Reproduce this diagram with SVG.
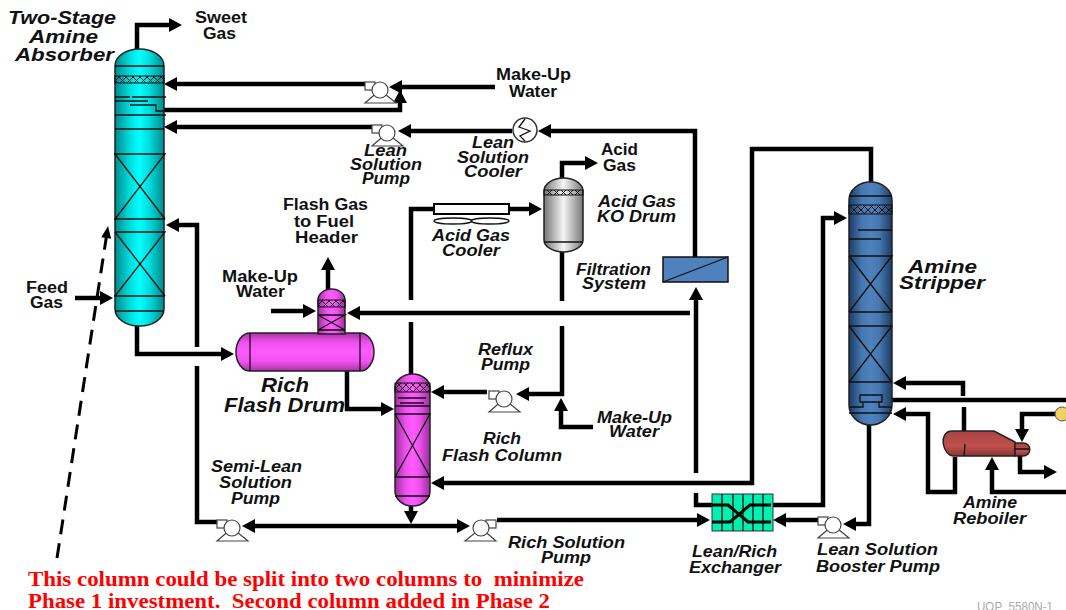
<svg xmlns="http://www.w3.org/2000/svg" width="1066" height="610" viewBox="0 0 1066 610">
<style>
text{font-family:"Liberation Sans",Arial,sans-serif;font-weight:700;fill:#111;font-size:16px}
.i{font-style:italic}
.b{font-size:20px}
.r{font-family:"Liberation Serif","Times New Roman",serif;fill:#f00;font-size:20px}
.g{fill:#aaa;font-weight:400;font-size:12px}
.p{fill:none;stroke:#000;stroke-width:4.500;stroke-linejoin:miter}
.a{marker-end:url(#ah)}
.v{stroke:#222;stroke-width:1.5}
.l{fill:none;stroke:#111;stroke-width:1.3}
.d{fill:url(#mesh);stroke:#111;stroke-width:1}
.pm{fill:#fff;stroke:#444;stroke-width:1.2}
</style>
<defs>
<marker id="ah" markerUnits="userSpaceOnUse" markerWidth="16" markerHeight="16" refX="3" refY="7" orient="auto" overflow="visible"><path d="M0,0L13,7L0,14z" fill="#000"/></marker>
<marker id="ad" markerUnits="userSpaceOnUse" markerWidth="14" markerHeight="14" refX="2" refY="6" orient="auto" overflow="visible"><path d="M0,1L12,6L0,11z" fill="#000"/></marker>
<linearGradient id="gc"><stop offset="0" stop-color="#008a8a"/><stop offset=".3" stop-color="#00dcdc"/><stop offset=".5" stop-color="#0ff"/><stop offset=".7" stop-color="#00dcdc"/><stop offset="1" stop-color="#008a8a"/></linearGradient>
<linearGradient id="gm"><stop offset="0" stop-color="#9a2f9a"/><stop offset=".3" stop-color="#ee50ee"/><stop offset=".5" stop-color="#ff5cff"/><stop offset=".7" stop-color="#ee50ee"/><stop offset="1" stop-color="#9a2f9a"/></linearGradient>
<linearGradient id="gy"><stop offset="0" stop-color="#777"/><stop offset=".5" stop-color="#f5f5f5"/><stop offset="1" stop-color="#777"/></linearGradient>
<linearGradient id="gb"><stop offset="0" stop-color="#1d3b63"/><stop offset=".3" stop-color="#4678b2"/><stop offset=".5" stop-color="#4f81bd"/><stop offset=".7" stop-color="#4678b2"/><stop offset="1" stop-color="#1d3b63"/></linearGradient>
<linearGradient id="gv" x1="0" y1="0" x2="0" y2="1"><stop offset="0" stop-color="#a835a8"/><stop offset=".25" stop-color="#f050f0"/><stop offset=".5" stop-color="#ff5cff"/><stop offset=".75" stop-color="#f050f0"/><stop offset="1" stop-color="#a835a8"/></linearGradient>
<linearGradient id="gr" x1="0" y1="0" x2="0" y2="1"><stop offset="0" stop-color="#a84442"/><stop offset=".6" stop-color="#c0504d"/><stop offset="1" stop-color="#8a3533"/></linearGradient>
<pattern id="mesh" width="7" height="7" patternUnits="userSpaceOnUse"><path d="M0,0L7,7M7,0L0,7" stroke="#111" stroke-width="1"/></pattern>
<g id="pump"><path class="pm" d="M0,0L-15,13H16z"/><rect class="pm" x="-15" y="-8" width="10" height="8"/><circle class="pm" r="8"/></g>
</defs>

<g id="connectors">
<path class="p a" d="M137 49V25H172"/>
<path class="p a" d="M365 84H174"/>
<path class="p a" d="M495 87H399"/>
<path class="p a" d="M164 110H400V100"/>
<path class="p a" d="M372 127H174"/>
<path class="p a" d="M512 131H408"/>
<path class="p a" d="M695 257V131H548"/>
<path class="p a" d="M696 473V297"/>
<path class="p" d="M696 493V505H713"/>
<path class="p a" d="M690 313H357"/>
<path class="p" d="M411 300V209H434"/>
<path class="p a" d="M509 209H532"/>
<path class="p" d="M411 322V374"/>
<path class="p a" d="M562 178V163H588"/>
<path class="p" d="M562 252V301"/>
<path class="p a" d="M562 326V394H526"/>
<path class="p a" d="M487 392H441"/>
<path class="p a" d="M593 427H561V408"/>
<path class="p a" d="M137 325V354H224"/>
<path class="p a" d="M197 347V225H176"/>
<path class="p" d="M197 366V522H218"/>
<path class="p a" d="M411 506V514"/>
<path class="p a" d="M411 526H252"/>
<path class="p a" d="M411 526H460"/>
<path class="p a" d="M497 520H700"/>
<path class="p a" d="M328 289V267"/>
<path class="p a" d="M271 311H306"/>
<path class="p a" d="M347 371V409H384"/>
<path class="p a" d="M871 182V149H752V483H441"/>
<path class="p a" d="M773 505H823V218H837"/>
<path class="p a" d="M869 425V524H853"/>
<path class="p a" d="M818 520H783"/>
<path class="p a" d="M963 396V383H903"/>
<path class="p" d="M892 400H1066"/>
<path class="p" d="M964 407V431"/>
<path class="p a" d="M955 457V492H928V414H903"/>
<path class="p a" d="M1056 414H1022V432"/>
<path class="p a" d="M1020 456V472H1047"/>
<path class="p a" d="M1066 492H992V467"/>
<path class="p a" d="M75 298H103"/>
<path d="M57 558L106.500 236" fill="none" stroke="#000" stroke-width="3" stroke-dasharray="15 9" marker-end="url(#ad)"/>
</g>

<g id="absorber">
<path class="v" fill="url(#gc)" d="M115 66A24.500 17 0 0 1 164 66V309A24.500 17 0 0 1 115 309Z"/>
<rect class="d" x="115" y="76" width="49" height="7"/>
<path class="l" d="M115 66H164M115 97H130M132 97H166M115 101H148M130 105H156V111H164M115 115H166M115 129H164M114 154H165L115 219M165 219L115 154M114 219H165M115 232H165L115 296M165 296L115 232M114 296H165M115 311H164"/>
</g>
<g id="water-pump"><use href="#pump" x="380" y="90"/></g>
<g id="lean-pump"><use href="#pump" x="387" y="133"/></g>
<g id="lean-cooler"><circle cx="525" cy="130" r="12" fill="#fff" stroke="#333" stroke-width="1.500"/><path class="l" d="M525 119L519 127L530 131L520 136L525 141"/></g>
<g id="acid-cooler"><rect x="434" y="204" width="75" height="10" fill="#fff" stroke="#000" stroke-width="2"/><ellipse class="l" cx="453" cy="221" rx="19" ry="3"/><ellipse class="l" cx="490" cy="221" rx="19" ry="3"/></g>
<g id="ko-drum">
<path class="v" fill="url(#gy)" d="M544 191A19.500 13 0 0 1 583 191V240A19.500 12 0 0 1 544 240Z"/>
<rect class="d" x="544" y="190" width="39" height="5"/>
<path class="l" d="M544 242H583"/>
</g>
<g id="filter"><rect x="663" y="257" width="65" height="25" fill="#4f81bd" stroke="#111" stroke-width="1.500"/><path class="l" d="M663 282L728 257"/></g>
<g id="flash-drum">
<path class="v" fill="url(#gv)" d="M250 333H360A14 19 0 0 1 360 371H250A14 19 0 0 1 250 333Z"/>
<path class="l" d="M250 333V371M360 333V371"/>
<path class="v" fill="url(#gm)" d="M318 300A13.500 11 0 0 1 345 300V334H318Z"/>
<rect class="d" x="318" y="300" width="27" height="7"/>
<path class="l" d="M318 315H345L318 330M345 330L318 315M318 330H345"/>
</g>
<g id="flash-column">
<path class="v" fill="url(#gm)" d="M395 388A17.500 14 0 0 1 430 388V491A17.500 15 0 0 1 395 491Z"/>
<rect class="d" x="395" y="383" width="35" height="9"/>
<path class="l" d="M398 398H426M400 403H424M395 406H430M395 414H430L395 477M430 477L395 414M395 477H430M395 496H430"/>
</g>
<g id="semi-pump"><use href="#pump" x="232" y="528"/></g>
<g id="reflux-pump"><use href="#pump" x="504" y="399"/></g>
<g id="rich-pump"><use href="#pump" transform="translate(481 528) scale(-1 1)"/></g>
<g id="booster-pump"><use href="#pump" x="833" y="525"/></g>
<g id="exchanger">
<rect x="712" y="494" width="61" height="37" fill="#00f0b0" stroke="#333" stroke-width="1"/>
<path class="l" d="M722 494V531M733 494V531M743 494V531M753 494V531M763 494V531"/>
<path fill="none" stroke="#000" stroke-width="3" d="M712 505H728L748 522H771M712 522H730L750 505H771"/>
</g>
<g id="stripper">
<path class="v" fill="url(#gb)" d="M849 200A21.500 18 0 0 1 892 200V405A21.500 20 0 0 1 849 405Z"/>
<rect class="d" x="849" y="205" width="43" height="9"/>
<path class="l" d="M849 196H892M858 230H892M849 239H881M849 256H892L849 312M892 312L849 256M849 312H892M849 326H892L849 382M892 382L849 326M849 382H892M860 395H882V402H860ZM863 402V407H849M879 402V407H892M849 413H892"/>
</g>
<g id="reboiler">
<path class="v" fill="url(#gr)" d="M952 431H994L1015 442V456H954C942 456 938 431 952 431Z"/>
<path class="v" fill="url(#gr)" d="M1015 443H1023C1032 443 1032 456 1023 456H1015Z"/>
<path class="l" d="M965 444L964 456M1015 449H1029"/>
<circle cx="1062" cy="414" r="7" fill="#f0d060" stroke="#555"/>
</g>

<g id="labels">
<text class="i" style="font-size:19px" x="8" y="24" textLength="108" lengthAdjust="spacingAndGlyphs">Two-Stage</text>
<text class="i" style="font-size:19px" x="29" y="43" textLength="69" lengthAdjust="spacingAndGlyphs">Amine</text>
<text class="i" style="font-size:19px" x="15" y="61" textLength="99" lengthAdjust="spacingAndGlyphs">Absorber</text>
<text x="195" y="23" textLength="52" lengthAdjust="spacingAndGlyphs">Sweet</text>
<text x="203" y="39" textLength="33" lengthAdjust="spacingAndGlyphs">Gas</text>
<text x="496" y="80" textLength="75" lengthAdjust="spacingAndGlyphs">Make-Up</text>
<text x="509" y="97" textLength="48" lengthAdjust="spacingAndGlyphs">Water</text>
<text class="i" x="364" y="156" textLength="43" lengthAdjust="spacingAndGlyphs">Lean</text>
<text class="i" x="350" y="170" textLength="72" lengthAdjust="spacingAndGlyphs">Solution</text>
<text class="i" x="362" y="184" textLength="48" lengthAdjust="spacingAndGlyphs">Pump</text>
<text class="i" x="472" y="148" textLength="42" lengthAdjust="spacingAndGlyphs">Lean</text>
<text class="i" x="457" y="163" textLength="72" lengthAdjust="spacingAndGlyphs">Solution</text>
<text class="i" x="464" y="177" textLength="58" lengthAdjust="spacingAndGlyphs">Cooler</text>
<text x="601" y="155" textLength="37" lengthAdjust="spacingAndGlyphs">Acid</text>
<text x="603" y="171" textLength="33" lengthAdjust="spacingAndGlyphs">Gas</text>
<text class="i" x="598" y="207" textLength="78" lengthAdjust="spacingAndGlyphs">Acid Gas</text>
<text class="i" x="597" y="222" textLength="79" lengthAdjust="spacingAndGlyphs">KO Drum</text>
<text class="i" x="432" y="241" textLength="78" lengthAdjust="spacingAndGlyphs">Acid Gas</text>
<text class="i" x="442" y="256" textLength="58" lengthAdjust="spacingAndGlyphs">Cooler</text>
<text class="i" x="576" y="275" textLength="75" lengthAdjust="spacingAndGlyphs">Filtration</text>
<text class="i" x="582" y="289" textLength="64" lengthAdjust="spacingAndGlyphs">System</text>
<text x="283" y="210" textLength="85" lengthAdjust="spacingAndGlyphs">Flash Gas</text>
<text x="294" y="227" textLength="60" lengthAdjust="spacingAndGlyphs">to Fuel</text>
<text x="295" y="243" textLength="63" lengthAdjust="spacingAndGlyphs">Header</text>
<text x="222" y="282" textLength="76" lengthAdjust="spacingAndGlyphs">Make-Up</text>
<text x="236" y="297" textLength="49" lengthAdjust="spacingAndGlyphs">Water</text>
<text x="26" y="293" textLength="42" lengthAdjust="spacingAndGlyphs">Feed</text>
<text x="30" y="308" textLength="33" lengthAdjust="spacingAndGlyphs">Gas</text>
<text class="i b" x="261" y="392" textLength="48" lengthAdjust="spacingAndGlyphs">Rich</text>
<text class="i b" x="224" y="412" textLength="121" lengthAdjust="spacingAndGlyphs">Flash Drum</text>
<text class="i" x="478" y="355" textLength="55" lengthAdjust="spacingAndGlyphs">Reflux</text>
<text class="i" x="481" y="370" textLength="49" lengthAdjust="spacingAndGlyphs">Pump</text>
<text class="i" x="483" y="444" textLength="38" lengthAdjust="spacingAndGlyphs">Rich</text>
<text class="i" x="442" y="461" textLength="120" lengthAdjust="spacingAndGlyphs">Flash Column</text>
<text class="i" x="211" y="472" textLength="91" lengthAdjust="spacingAndGlyphs">Semi-Lean</text>
<text class="i" x="219" y="488" textLength="73" lengthAdjust="spacingAndGlyphs">Solution</text>
<text class="i" x="231" y="504" textLength="49" lengthAdjust="spacingAndGlyphs">Pump</text>
<text class="i" x="508" y="548" textLength="117" lengthAdjust="spacingAndGlyphs">Rich Solution</text>
<text class="i" x="541" y="563" textLength="50" lengthAdjust="spacingAndGlyphs">Pump</text>
<text class="i" x="597" y="423" textLength="75" lengthAdjust="spacingAndGlyphs">Make-Up</text>
<text class="i" x="609" y="437" textLength="50" lengthAdjust="spacingAndGlyphs">Water</text>
<text class="i" style="font-size:19px" x="908" y="273" textLength="69" lengthAdjust="spacingAndGlyphs">Amine</text>
<text class="i" style="font-size:19px" x="899" y="289" textLength="86" lengthAdjust="spacingAndGlyphs">Stripper</text>
<text class="i" x="963" y="508" textLength="54" lengthAdjust="spacingAndGlyphs">Amine</text>
<text class="i" x="953" y="524" textLength="73" lengthAdjust="spacingAndGlyphs">Reboiler</text>
<text class="i" x="692" y="557" textLength="85" lengthAdjust="spacingAndGlyphs">Lean/Rich</text>
<text class="i" x="689" y="573" textLength="92" lengthAdjust="spacingAndGlyphs">Exchanger</text>
<text class="i" x="817" y="555" textLength="121" lengthAdjust="spacingAndGlyphs">Lean Solution</text>
<text class="i" x="816" y="572" textLength="124" lengthAdjust="spacingAndGlyphs">Booster Pump</text>
<text class="g" x="977" y="611" textLength="76" lengthAdjust="spacingAndGlyphs">UOP_5580N-1</text>
<text class="r" x="28" y="586" textLength="556" lengthAdjust="spacingAndGlyphs" xml:space="preserve">This column could be split into two columns to  minimize</text>
<text class="r" x="28" y="608" textLength="522" lengthAdjust="spacingAndGlyphs" xml:space="preserve">Phase 1 investment.  Second column added in Phase 2</text>
</g>
</svg>
